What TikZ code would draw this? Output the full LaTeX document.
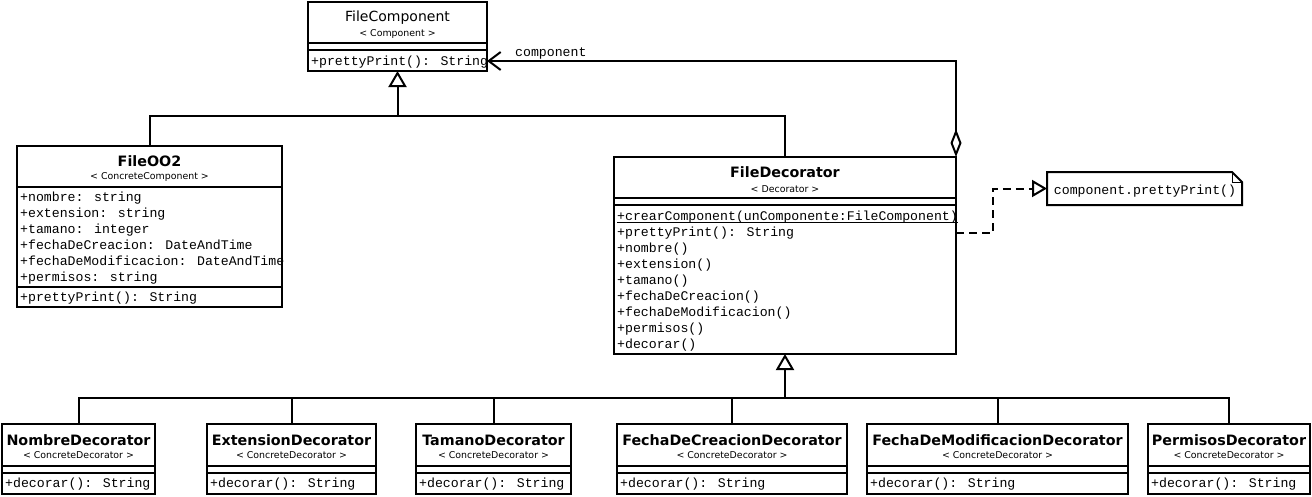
\documentclass[tikz,border=0pt]{standalone}
\usepackage{fontspec}
\usetikzlibrary{arrows.meta,fit}
\newfontfamily\umlsans{DejaVu Sans}
\newfontfamily\umlmono{Liberation Mono}

\tikzset{
  frame/.style={draw=black, line width=2pt},
  box/.style={frame, fit={#1}, inner sep=0pt, outer sep=0pt},
  plaintitle/.style={font=\umlsans\fontsize{14}{16}\selectfont, inner sep=0pt, anchor=base},
  boldtitle/.style={font=\umlsans\bfseries\fontsize{14.3}{16}\selectfont, inner sep=0pt, anchor=base},
  stereo/.style={font=\umlsans\fontsize{9.4}{10}\selectfont, inner sep=0pt, anchor=base},
  member/.style={font=\umlmono\fontsize{13.2}{16}\selectfont, inner sep=0pt, anchor=base west},
  conn/.style={draw=black, line width=2pt},
  inherit/.style={conn, -{Triangle[open, length=16pt, width=18pt]}},
  assoc/.style={conn, {Diamond[open, length=28pt, width=11pt]}-{Straight Barb[length=12pt, width=18pt]}},
  realize/.style={conn, dash pattern=on 8pt off 5pt, -{Triangle[open, length=15pt, width=17pt]}},
}

% compartment divider across a class box
\newcommand\classsep[2]{\draw[frame] (#1.west |- 0,#2) -- (#1.east |- 0,#2);}

% concrete decorator class: name, left, right, title
\newcommand\concretedec[4]{%
  \node[box={(#2,424) (#3,494)}] (#1) {};
  \node[boldtitle] (#1-name) at ({(#2+#3)/2},445) {#4};
  \node[stereo] (#1-st) at ({(#2+#3)/2},458) {< ConcreteDecorator >};
  \classsep{#1}{466}
  \classsep{#1}{473}
  \node[member] (#1-op) at ({#2+3},487) {+decorar(): String};
}

\begin{document}
\begin{tikzpicture}[x=1pt, y=-1pt]
\useasboundingbox (0,0) rectangle (1312,496);

% FileComponent
\node[box={(308,2) (487,71)}] (fc) {};
\node[plaintitle] (fc-name) at (397.5,21) {FileComponent};
\node[stereo] (fc-st) at (397.5,36) {< Component >};
\classsep{fc}{43}
\classsep{fc}{50}
\node[member] (fc-op) at (311,65) {+prettyPrint(): String};

% File002
\node[box={(17,146) (282,307)}] (f2) {};
\node[boldtitle] (f2-name) at (149.5,166) {FileOO2};
\node[stereo] (f2-st) at (149.5,179) {< ConcreteComponent >};
\classsep{f2}{187}
\node[member] (f2-a1) at (20,201) {+nombre: string};
\node[member] (f2-a2) at (20,217) {+extension: string};
\node[member] (f2-a3) at (20,233) {+tamano: integer};
\node[member] (f2-a4) at (20,249) {+fechaDeCreacion: DateAndTime};
\node[member] (f2-a5) at (20,265) {+fechaDeModificacion: DateAndTime};
\node[member] (f2-a6) at (20,281) {+permisos: string};
\classsep{f2}{287}
\node[member] (f2-op) at (20,301) {+prettyPrint(): String};

% FileDecorator
\node[box={(614,157) (956,354)}] (fd) {};
\node[boldtitle] (fd-name) at (785,177) {FileDecorator};
\node[stereo] (fd-st) at (785,192) {< Decorator >};
\classsep{fd}{198}
\classsep{fd}{205}
\node[member] (fd-m1) at (617,220) {+crearComponent(unComponente:FileComponent)};
\draw[line width=0.9pt] ([yshift=-2pt]fd-m1.base west) -- ([yshift=-2pt]fd-m1.base east);
\node[member] (fd-m2) at (617,236) {+prettyPrint(): String};
\node[member] (fd-m3) at (617,252) {+nombre()};
\node[member] (fd-m4) at (617,268) {+extension()};
\node[member] (fd-m5) at (617,284) {+tamano()};
\node[member] (fd-m6) at (617,300) {+fechaDeCreacion()};
\node[member] (fd-m7) at (617,316) {+fechaDeModificacion()};
\node[member] (fd-m8) at (617,332) {+permisos()};
\node[member] (fd-m9) at (617,348) {+decorar()};

% note attached to prettyPrint
\node[fit={(1047,172) (1242,205)}, inner sep=0pt, outer sep=0pt] (note) {};
\draw[frame] (note.north west) -- ([xshift=-10pt]note.north east)
  -- ([yshift=-10pt]note.north east) -- (note.south east)
  -- (note.south west) -- cycle;
\draw[line width=0.8pt] ([xshift=-10pt]note.north east) |- ([yshift=-10pt]note.north east);
\node[member, anchor=base] (note-text) at (1145,194) {component.prettyPrint()};

% concrete decorators
\concretedec{nd}{2}{155}{NombreDecorator}
\concretedec{ed}{207}{376}{ExtensionDecorator}
\concretedec{td}{416}{571}{TamanoDecorator}
\concretedec{fcd}{617}{847}{FechaDeCreacionDecorator}
\concretedec{fmd}{867}{1128}{FechaDeModificacionDecorator}
\concretedec{pd}{1148}{1310}{PermisosDecorator}

% generalisation to FileComponent
\coordinate (j1) at (397.5,116);
\draw[inherit] (j1) -- (fc.south);
\draw[conn] (f2.north) |- (j1);
\draw[conn] (fd.north) |- (j1);

% aggregation FileDecorator -> FileComponent
\draw[assoc] (fd.north east) |- ([yshift=10pt]fc.south east);
\node[member] (assoc-label) at (515,56) {component};

% dashed link to the note
\draw[realize] (fd.east |- fd-m2) -- ++(37,0) |- (note.west);

% generalisation to FileDecorator
\coordinate (j2) at (785,398);
\draw[inherit] (j2) -- (fd.south);
\foreach \n in {nd,ed,td,fcd,fmd,pd}
  \draw[conn] (\n.north) |- (j2);
\end{tikzpicture}
\end{document}
